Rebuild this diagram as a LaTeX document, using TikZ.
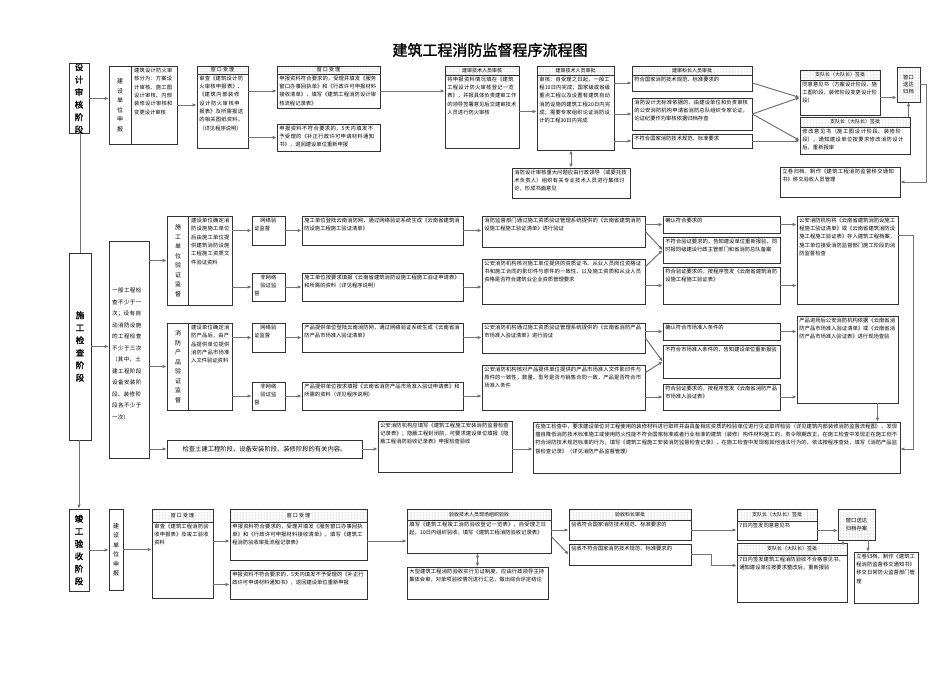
\documentclass[tikz,border=0pt]{standalone}
\usepackage{fontspec}
\setmainfont{Noto Sans CJK SC}[AutoFakeBold=1.5]
\XeTeXlinebreaklocale "zh"
\XeTeXlinebreakskip=0pt plus 1pt
\usetikzlibrary{arrows.meta,patterns}

\tikzset{
  frame/.style={draw=black!80, line width=0.7pt, inner sep=0pt},
  hdr/.style={frame, pattern=dots, pattern color=black!45, font=\fontsize{5}{6}\selectfont},
  txt/.style={inner sep=0pt, align=left, font=\fontsize{5.3}{8.3}\selectfont},
  vtxt/.style={inner sep=0pt, align=center, font=\fontsize{6}{9.5}\selectfont},
  stage/.style={inner sep=0pt, align=center, font=\fontsize{8.5}{12.5}\selectfont\bfseries},
  arr/.style={draw=black!55, line width=1pt, -{Latex[length=4pt,width=3.5pt,fill=black]}},
  biarr/.style={arr, {Latex[length=4pt,width=3.5pt,fill=black]}-{Latex[length=4pt,width=3.5pt,fill=black]}},
  link/.style={draw=black!55, line width=1pt}
}

% name, x, y, w, h, text
\newcommand\flowbox[6]{%
  \node[frame, minimum width=#4pt, minimum height=#5pt] (#1) at (#2+#4/2, #3+#5/2) {};
  \pgfmathsetmacro\twidth{#4-5}%
  \node[txt, text width=\twidth pt, anchor=north west] at ([shift={(2.5pt,-2pt)}]#1.north west) {#6};}
% name, x, y, w, h, header text
\newcommand\headbox[6]{%
  \node[hdr, minimum width=#4pt, minimum height=#5pt] (#1) at (#2+#4/2, #3+#5/2) {#6};}

\begin{document}
\begin{tikzpicture}[x=1pt, y=-1pt]
\useasboundingbox (0,0) rectangle (950,672);
\node[font=\fontsize{15}{18}\selectfont\bfseries] (title) at (490,50) {建筑工程消防监督程序流程图};

% ---------------- 设计审核阶段
\node[frame, minimum width=20pt, minimum height=67pt, stage] (dstage) at (79,98.5) {设\\计\\审\\核\\阶\\段};
\node[frame, minimum width=68pt, minimum height=78pt] (dapply) at (143,105) {};
\draw[frame] (131,66) -- (131,144);
\node[vtxt] at (120,105) {建\\设\\单\\位\\申\\报};
\node[txt, text width=40pt, anchor=north west] at (134,68) {建筑设计防火审核分为：方案设计审核、施工图设计审核、内部装修设计审核和变更设计审核};
\headbox{drecvh}{197}{66}{51}{8}{窗\ 口\ 受\ 理}
\flowbox{drecv}{197}{74}{51}{74}{审查《建筑设计防火审核申报表》、《建筑内部装修设计防火审核申报表》及所需报送的相关图纸资料。（详见程序说明）}
\headbox{dokh}{277}{66}{103}{8}{窗\ 口\ 受\ 理}
\flowbox{dok}{277}{74}{103}{34}{申报资料符合要求的，受理并填发《服务窗口办事回执单》和《行政许可申报材料接收清单》，填写《建筑工程消防设计审核流程记录表》}
\flowbox{dno}{277}{124}{103}{27}{申报资料不符合要求的，5天内填发不予受理的《补正行政许可申请材料通知书》，退回建设单位重新申报}
\headbox{dtechh}{445}{66}{74}{9}{建审技术人员审核}
\flowbox{dtech}{445}{75}{74}{73}{将申报资料情况填在《建筑工程设计防火审核登记一览表》，并报具体负责建审工作的领导签署意见后交建审技术人员进行防火审核}
\headbox{dapprh}{537}{66}{77}{9}{建审技术人员审批}
\flowbox{dappr}{537}{75}{77}{75}{审核：自受理之日起，一般工程10日内完成；国家级或省级重点工程以及设置有建筑自动消防设施的建筑工程20日内完成；需要专家组织论证消防设计的工程30日内完成}
\flowbox{dmeet}{512}{168}{118}{30}{消防设计审核重大问题应由行政领导（或委托技术负责人）组织有关专业技术人员进行集体讨论，形成书面意见}
\headbox{dresh}{632}{66}{120}{9}{建审科长人员审批}
\flowbox{dres1}{632}{75}{120}{16}{符合国家消防技术规范、标准要求的}
\flowbox{dres2}{632}{98}{120}{32}{消防设计无标准依据的，由建设单位和负责审核的公安消防机构申请省消防总队组织专家论证，论证纪要作为审核依据归档存查}
\flowbox{dres3}{632}{134}{120}{14}{不符合国家消防技术规范、标准要求}
\headbox{dsign1h}{800}{70}{80}{10}{支队长（大队长）签批}
\flowbox{dsign1}{800}{80}{80}{35}{同意意见书（方案设计阶段、施工图阶段、装修阶段变更设计阶段）}
\headbox{dsign2h}{800}{117}{110}{10}{支队长（大队长）签批}
\flowbox{dsign2}{800}{127}{110}{27}{修改意见书（施工图设计阶段、装修阶段），通知建设单位按要求修改消防设计后，重新报审}
\node[hdr, minimum width=23pt, minimum height=35pt, align=center, font=\fontsize{5.3}{7}\selectfont] (darch) at (908.5,84.5) {窗口\\送达\\归档};
\flowbox{dfinal}{780}{167}{120}{30}{立卷归档，制作《建筑工程消防监督移交通知书》移交验收人员管理}

\draw[arr] (dstage.east) -- (dstage.east -| dapply.west);
\draw[arr] (dapply.east) -- (dapply.east -| drecv.west);
\draw[arr] (drecv.east |- dok.west) -- (dok.west);
\draw[arr] (drecv.east |- dno.west) -- (dno.west);
\draw[arr] (dok.east) -- (dok.east -| dtech.west);
\draw[arr] (dtech.east) -- (dtech.east -| dappr.west);
\draw[biarr] (dappr.south -| dmeet.north) -- (dmeet.north);
\draw[arr] (dappr.east |- dres1.west) -- (dres1.west);
\draw[arr] (dappr.east |- dres2.west) -- (dres2.west);
\draw[arr] (dappr.east |- dres3.west) -- (dres3.west);
\draw[arr] (dres1.east) -- (dsign1.west);
\draw[arr] (dres2.east) -- (dsign1.west);
\draw[arr] (dres2.east) -- (dsign2.west);
\draw[arr] (dres3.east) -- (dres3.east -| dsign2.west);
\draw[arr] (dsign1.east) -- (dsign1.east -| darch.west);
\draw[arr] (dsign2h.north -| darch.south) -- (darch.south);
\coordinate (dturn) at (926,182);
\draw[arr] (darch.east) -| (dturn) -- (dturn -| dfinal.east);

% ---------------- 施工检查阶段
\node[frame, minimum width=22pt, minimum height=187pt, stage] (cstage) at (80,346.5) {施\\工\\检\\查\\阶\\段};
\node[frame, minimum width=40pt, minimum height=217pt] (cbig) at (129,349.5) {};
\node[txt, text width=33pt, anchor=north west, font=\fontsize{5.6}{11.5}\selectfont] at (112,288) {一般工程检查不少于一次；设有自动消防设施的工程检查不少于三次（其中，土建工程阶段设备安装阶段、装修阶段各不少于一次）};
\node[frame, minimum width=65pt, minimum height=89pt] (cunit) at (199.5,260.5) {};
\draw[frame] (188,216) -- (188,305);
\node[vtxt] at (178,260.5) {施\\工\\单\\位\\验\\证\\监\\督};
\node[txt, text width=40pt, anchor=north west] at (191,218) {建设单位确定消防设施施工单位后由施工单位提供建筑消防设施工程施工资质文件验证资料};
\node[frame, minimum width=65pt, minimum height=87pt] (cprod) at (199.5,366.5) {};
\draw[frame] (188,323) -- (188,410);
\node[vtxt] at (178,366.5) {消\\防\\产\\品\\验\\证\\监\\督};
\node[txt, text width=40pt, anchor=north west] at (191,325) {建设单位确定消防产品后，由产品提供单位提供消防产品市场准入文件验证资料};
\flowbox{cnet1}{252}{216}{33}{29}{\centering 网络验\\证监督}
\flowbox{cnon1}{252}{273}{33}{28}{\centering 非网络\\验证监\\督}
\flowbox{cnet2}{252}{323}{33}{29}{\centering 网络验\\证监督}
\flowbox{cnon2}{252}{382}{33}{28}{\centering 非网络\\验证监\\督}
\flowbox{ct1}{302}{216}{161}{29}{施工单位登陆云南消防网，通过网络验证系统生成《云南省建筑消防设施工程施工验证清单》}
\flowbox{ct2}{302}{273}{161}{28}{施工单位按要求填报《云南省建筑消防设施工程施工验证申请表》和所需的资料（详见程序说明）}
\flowbox{ct3}{302}{323}{161}{29}{产品提供单位登陆云南消防网，通过网络验证系统生成《云南省消防产品市场准入验证清单》}
\flowbox{ct4}{302}{382}{161}{28}{产品提供单位按求填报《云南省消防产品市场准入验证申请表》和所需的资料（详见程序说明）}
\flowbox{cv1}{482}{216}{163}{31}{消防监督部门通过施工资质验证管理系统提供的《云南省建筑消防设施工程施工验证清单》进行验证}
\flowbox{cv2}{482}{259}{163}{45}{公安消防机构核对施工单位提供的资质证书、从业人员岗位资格证书和施工合同的影印件与原件的一致性，以及施工资质和从业人员资格是否符合建筑业企业资质管理要求}
\flowbox{cv3}{482}{323}{163}{30}{公安消防机构通过施工资质验证管理系统提供的《云南省消防产品市场准入验证清单》进行验证}
\flowbox{cv4}{482}{365}{163}{45}{公安消防机构核对产品提供单位提供的产品市场准入文件影印件与原件的一致性，数量、型号是否与销售合同一致，产品是否符合市场准入条件}
\flowbox{co1}{663}{216}{117}{17}{确认符合要求的}
\flowbox{co2}{663}{237}{117}{26}{不符合验证要求的，告知建设单位重新报验，同时报同级建设行政主管部门和省消防总队备案}
\flowbox{co3}{663}{267}{117}{37}{符合验证要求的，按程序签发《云南省建筑消防设施工程施工验证表》}
\flowbox{co4}{663}{323}{117}{17}{确认符合市场准入条件的}
\flowbox{co5}{663}{345}{117}{33}{不符合市场准入条件的，告知建设单位重新报验}
\flowbox{co6}{663}{384}{117}{26}{符合验证要求的，按程序签发《云南省消防产品市场准入验证表》}
\flowbox{cr1}{797}{216}{101}{88}{公安消防机构将《云南省建筑消防设施工程施工验证清单》或《云南省建筑消防设施工程施工验证表》存入建筑工程档案，施工单位接受消防监督部门施工阶段的消防监督检查}
\flowbox{cr2}{797}{316}{101}{87}{产品进场后公安消防机构依据《云南省消防产品市场准入验证清单》或《云南省消防产品市场准入验证表》进行现场查验}
\node[frame, minimum width=195pt, minimum height=18pt, txt, font=\fontsize{6.3}{8}\selectfont] (ccheck) at (264.5,449) {检查土建工程阶段、设备安装阶段、装修阶段的有关内容。};
\flowbox{crec}{378}{421}{134}{51}{公安消防机构应填写《建筑工程施工安装消防监督检查记录表》；隐蔽工程封闭前，可要求建设单位填报《隐蔽工程消防验收记录表》申报检查验收}
\flowbox{cwide}{533}{422}{367}{51}{在施工检查中，要求建设单位对工程使用的装修材料进行取样并由具备相应资质的检验单位进行见证取样检验（详见建筑内部装修消防监督流程图），发现擅自降低消防技术标准施工或使用防火性能不符合国家标准或者行业标准的建筑（装修）构件材料施工的，责令限期改正，在施工检查中发现正在施工但不符合消防技术规范标准的行为，填写《建筑工程施工安装消防监督检查记录》，在施工检查中发现有其他违法行为的，依法按程序查处，填写《消防产品监督检查记录》（详见消防产品监督管理）}

\draw[link] (dstage.south) -- (dstage.south -| cstage.north) -- (cstage.north);
\draw[arr] (cstage.east) -- (cstage.east -| cbig.west);
\draw[arr] (cbig.east |- cunit.west) -- (cunit.west);
\draw[arr] (cbig.east |- cprod.west) -- (cprod.west);
\draw[arr] (cbig.east |- ccheck.west) -- (ccheck.west);
\draw[arr] (cunit.east |- cnet1.west) -- (cnet1.west);
\draw[arr] (cunit.east |- cnon1.west) -- (cnon1.west);
\draw[arr] (cprod.east |- cnet2.west) -- (cnet2.west);
\draw[arr] (cprod.east |- cnon2.west) -- (cnon2.west);
\foreach \i in {1,2} {
  \draw[arr] (cnet\i.east) -- (ct\the\numexpr2*\i-1\relax.west);
  \draw[arr] (cnon\i.east) -- (ct\the\numexpr2*\i\relax.west);
}
\foreach \i in {1,2,3,4} {
  \draw[arr] (ct\i.east) -- (ct\i.east -| cv\i.west);
}
\draw[arr] (cv1.east |- co1.west) -- (co1.west);
\draw[arr] (cv1.east) -- (co2.west);
\draw[arr] ([yshift=-8pt]cv2.north east) -- (co2.west);
\draw[arr] (cv2.east |- co3.west) -- (co3.west);
\draw[arr] (cv3.east |- co4.west) -- (co4.west);
\draw[arr] (cv3.east) -- (co5.west);
\draw[arr] ([yshift=-8pt]cv4.north east) -- (co5.west);
\draw[arr] (cv4.east |- co6.west) -- (co6.west);
\draw[arr] (co1.east) -- (co1.east -| cr1.west);
\draw[arr] (co3.east) -- (co3.east -| cr1.west);
\draw[arr] (co4.east) -- (co4.east -| cr2.west);
\draw[arr] (co6.east) -- (co6.east -| cr2.west);
\coordinate (cturn) at (913,449);
\draw[arr] ([yshift=-20pt]cr1.north east) -| (cturn) -- (cturn -| cwide.east);
\draw[arr] ([xshift=30pt]cr2.south) -- ([xshift=30pt]cr2.south |- cwide.north);
\draw[arr] (ccheck.east) -- (ccheck.east -| crec.west);
\draw[arr] (crec.east |- ccheck.east) -- (ccheck.east -| cwide.west);

% ---------------- 竣工验收阶段
\node[frame, minimum width=20pt, minimum height=82pt, stage] (astage) at (79,550) {竣\\工\\验\\收\\阶\\段};
\node[frame, minimum width=14pt, minimum height=81pt, vtxt] (aapply) at (116,549.5) {建\\设\\单\\位\\申\\报};
\headbox{arecvh}{152}{509}{61}{13}{窗\ 口\ 受\ 理}
\flowbox{arecv}{152}{522}{61}{76}{审查《建筑工程消防验收申报表》及竣工验收资料}
\headbox{aokh}{230}{509}{137}{13}{窗\ 口\ 受\ 理}
\flowbox{aok}{230}{522}{137}{38}{申报资料符合要求的，受理并填发《服务窗口办事回执单》和《行政许可申报材料接收清单》，填写《建筑工程消防验收审批流程记录表》}
\flowbox{ano}{230}{570}{137}{29}{申报资料不符合要求的，5天内填发不予受理的《补正行政许可申请材料通知书》，退回建设单位重新申报}
\headbox{atechh}{407}{509}{144}{11}{验收技术人员现场组织验收}
\flowbox{atech}{407}{520}{144}{33}{填写《建筑工程竣工消防验收登记一览表》，自受理之日起，10日内组织验收，填写《建筑工程消防验收记录表》}
\flowbox{ameet}{407}{567}{141}{32}{大型建筑工程消防验收实行见证制度，应由行政领导主持集体会审，对单项验收情况进行汇总，做出综合评定结论}
\headbox{aresh}{569}{509}{122}{11}{验收科长审批}
\flowbox{ares1}{569}{520}{122}{20}{验收符合国家消防技术规范、标准要求的}
\flowbox{ares2}{569}{544}{122}{21}{验收不符合国家消防技术规范、标准要求的}
\headbox{asign1h}{737}{509}{80}{12}{支队长（大队长）签批}
\flowbox{asign1}{737}{521}{80}{19}{7日内签发同意意见书}
\headbox{asign2h}{737}{543}{110}{12}{支队长（大队长）签批}
\flowbox{asign2}{737}{555}{110}{47}{7日内签发建筑工程消防验收不合格意见书，通知建设单位按要求整改后，重新报验}
\node[hdr, minimum width=37pt, minimum height=31pt, align=center, font=\fontsize{5.3}{7.5}\selectfont] (aarch) at (856.5,524.5) {窗口送达\\归档存案};
\flowbox{afinal}{854}{552}{64}{51}{\fontsize{5.3}{9}\selectfont 立卷归档，制作《建筑工程消防监督移交通知书》移交日常防火监督部门管理}

\draw[arr] (cstage.south) -- (cstage.south -| astage.north) -- (astage.north);
\draw[arr] (astage.east) -- (astage.east -| aapply.west);
\draw[arr] (aapply.east) -- (aapply.east -| arecv.west);
\draw[arr] (arecv.east |- aok.west) -- (aok.west);
\draw[arr] (arecv.east |- ano.west) -- (ano.west);
\draw[arr] (aok.east) -- (aok.east -| atech.west);
\draw[biarr] (atech.south -| ameet.north) -- (ameet.north);
\draw[arr] (atech.east |- ares1.west) -- (ares1.west);
\draw[arr] (atech.east) -- (ares2.west);
\draw[arr] (ares1.east) -- (ares1.east -| asign1.west);
\draw[arr] (ares2.east) -- ++(20pt,0) |- (asign2.west |- ares2.south);
\draw[arr] (asign1.east) -- (asign1.east -| aarch.west);
\coordinate (aup) at (843,543);
\draw[arr] (aup) -- (aup |- aarch.south);
\coordinate (adown) at (868,540);
\draw[arr] (adown) -- (adown |- afinal.north);
\end{tikzpicture}
\end{document}
